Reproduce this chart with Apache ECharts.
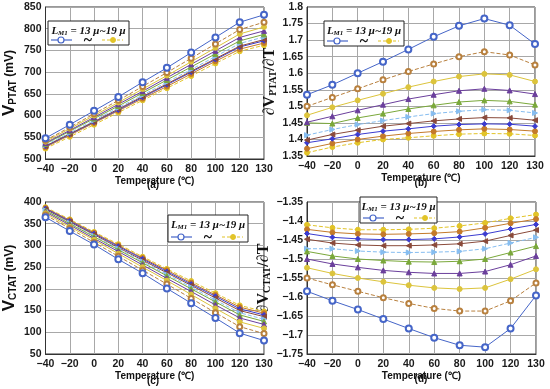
<!DOCTYPE html>
<html><head><meta charset="utf-8">
<script src="https://cdn.jsdelivr.net/npm/echarts@6/dist/echarts.min.js"></script>
<style>html,body{margin:0;padding:0;background:#fff}#c{width:550px;height:389px}</style>
</head><body><div id="c"></div>
<script>
// ---------- DATA ----------
const temps = ['-40','-20','0','20','40','60','80','100','120','130'];
const seriesNames = ['L1','L2','L3','L4','L5','L6','L7','L8','L9','L10'];
// (a) V_PTAT (mV)
const vptat = [
  [548,579,611,643,677,710,745,780,815,832],
  [543,573,604,635,667,699,732,765,798,815],
  [540,570,600,630,661,692,724,756,788,804],
  [537,566,596,626,656,687,718,749,780,795],
  [535,564,593,622,652,682,712,742,772,787],
  [532,560,589,618,647,677,706,736,766,781],
  [530,558,586,615,644,673,702,731,760,775],
  [529,557,585,613,642,671,700,729,758,772],
  [527,555,583,611,639,667,696,725,753,767],
  [524,551,579,607,635,663,691,720,748,762]
];
// (b) dV_PTAT/dT
const dvptat = [
  [1.535,1.565,1.600,1.635,1.672,1.710,1.743,1.765,1.745,1.688],
  [1.500,1.527,1.553,1.580,1.605,1.628,1.650,1.665,1.655,1.625],
  [1.473,1.497,1.518,1.538,1.558,1.575,1.590,1.598,1.595,1.575],
  [1.452,1.470,1.488,1.505,1.522,1.535,1.547,1.553,1.548,1.537],
  [1.450,1.448,1.465,1.478,1.492,1.503,1.513,1.518,1.515,1.505],
  [1.413,1.430,1.445,1.457,1.468,1.478,1.485,1.490,1.488,1.480],
  [1.398,1.415,1.428,1.440,1.448,1.456,1.462,1.466,1.465,1.458],
  [1.390,1.402,1.415,1.425,1.432,1.440,1.445,1.447,1.446,1.440],
  [1.372,1.388,1.400,1.410,1.418,1.424,1.429,1.432,1.430,1.425],
  [1.360,1.377,1.390,1.400,1.405,1.411,1.416,1.418,1.417,1.412]
];
// (c) V_CTAT (mV)
const vctat = [
  [365,333,302,268,236,201,167,133,98,81],
  [370,339,307,275,243,211,178,145,113,97],
  [374,343,313,281,250,219,187,155,124,109],
  [377,347,316,286,255,224,194,163,133,118],
  [380,350,320,290,260,230,200,170,140,125],
  [381,352,322,293,263,233,204,174,145,130],
  [383,354,325,295,266,237,208,179,150,136],
  [385,356,327,298,269,240,211,183,154,140],
  [386,358,329,300,271,243,214,186,158,144],
  [388,360,331,303,274,246,218,190,162,148]
];
// (d) dV_CTAT/dT
const dvctat = [
  [-1.585,-1.610,-1.633,-1.658,-1.683,-1.707,-1.727,-1.732,-1.683,-1.596],
  [-1.550,-1.568,-1.585,-1.602,-1.617,-1.630,-1.637,-1.637,-1.610,-1.563],
  [-1.523,-1.538,-1.550,-1.560,-1.569,-1.576,-1.579,-1.576,-1.553,-1.527],
  [-1.500,-1.513,-1.522,-1.530,-1.535,-1.538,-1.538,-1.533,-1.515,-1.492],
  [-1.480,-1.492,-1.500,-1.504,-1.507,-1.508,-1.506,-1.500,-1.483,-1.466],
  [-1.473,-1.473,-1.479,-1.482,-1.483,-1.482,-1.480,-1.473,-1.458,-1.443],
  [-1.448,-1.458,-1.463,-1.465,-1.465,-1.463,-1.460,-1.453,-1.438,-1.424],
  [-1.433,-1.443,-1.447,-1.449,-1.449,-1.447,-1.442,-1.434,-1.421,-1.409],
  [-1.422,-1.430,-1.434,-1.435,-1.434,-1.432,-1.428,-1.418,-1.406,-1.395],
  [-1.410,-1.418,-1.423,-1.423,-1.422,-1.419,-1.413,-1.405,-1.393,-1.383]
];

// ---------- STYLE ----------
const colors = ['#4565c8','#b8803e','#dcc43c','#6b3f9c','#7aa83a','#86bdf0','#8a4a3a','#3b3bd0','#c47a2a','#e2c428'];
const dashes = ['solid','dashed','solid','solid','solid','dashed','solid','solid','solid','dashed'];
const symbols = ['emptyCircle','emptyCircle','circle','triangle','triangle','triangle','triangle','diamond','circle','circle'];
const symRot = [0,0,0,0,0,-90,90,0,0,0];
const symSize = [6,5,5,5,5,5,5,5,5,5];

const grids = [
  {left:42, top:7, width:222, height:152},
  {left:307, top:7, width:228, height:149},
  {left:42, top:202, width:222, height:152},
  {left:307, top:202, width:229, height:152}
];
const yCfg = [
  {min:500,max:850,interval:50},
  {min:1.35,max:1.8,interval:0.05},
  {min:50,max:400,interval:50},
  {min:-1.75,max:-1.35,interval:0.05}
];
const yNames = [
  '{v|V}{s|PTAT}{u| (mV)}',
  '{d|∂V}{s2|PTAT}{d|/∂T}',
  '{v|V}{s|CTAT}{u| (mV)}',
  '{d|∂V}{s2|CTAT}{d|/∂T}'
];
const yGaps = [27,24,27,27];
const datasets = [vptat, dvptat, vctat, dvctat];
const minus = s => String(s).replace('-', '−');
const labelFont = {fontFamily:'Liberation Sans', fontWeight:'bold', fontSize:10.5, color:'#1a1a1a'};

const xAxes = [], yAxes = [], series = [];
grids.forEach((g,i) => {
  xAxes.push({
    gridIndex:i, type:'category', data:temps, boundaryGap:false,
    axisLine:{show:true, lineStyle:{color:'#333'}}, axisTick:{show:false},
    axisLabel:Object.assign({margin:5, formatter:minus}, labelFont),
    splitLine:{show:true, lineStyle:{color:'#a8a8a8'}},
    name:'Temperature (℃)', nameLocation:'middle', nameGap:13,
    nameTextStyle:{fontFamily:'Liberation Sans', fontWeight:'bold', fontSize:10, color:'#111'}
  });
  yAxes.push(Object.assign({
    gridIndex:i, type:'value',
    axisLine:{show:true, lineStyle:{color:'#333'}}, axisTick:{show:false},
    axisLabel:Object.assign({margin:4, formatter:v => minus(+v.toFixed(2))}, labelFont),
    splitLine:{show:true, lineStyle:{color:'#a8a8a8'}},
    name:yNames[i], nameLocation:'middle', nameGap:yGaps[i], nameRotate:90,
    nameTextStyle:{color:'#111', rich:{
      v:{fontFamily:'Liberation Sans', fontWeight:'bold', fontSize:17, color:'#111'},
      s:{fontFamily:'Liberation Sans', fontWeight:'bold', fontSize:10, color:'#111', padding:[8,0,0,0]},
      u:{fontFamily:'Liberation Sans', fontWeight:'bold', fontSize:12, color:'#111'},
      d:{fontFamily:'Liberation Serif', fontWeight:'bold', fontSize:16, color:'#111'},
      s2:{fontFamily:'Liberation Serif', fontWeight:'bold', fontSize:10, color:'#111', padding:[8,0,0,0]}
    }}
  }, yCfg[i]));
  datasets[i].forEach((arr,k) => {
    series.push({
      type:'line', name:seriesNames[k], xAxisIndex:i, yAxisIndex:i, data:arr,
      symbol:symbols[k], symbolSize:symSize[k], symbolRotate:symRot[k],
      showAllSymbol:true,
      lineStyle:{color:colors[k], width:1, type:dashes[k]},
      itemStyle:{color:colors[k], borderColor:colors[k], borderWidth:1},
      emphasis:{disabled:true}, animation:false, z:3+ (9-k)
    });
  });
});

function legendBox(x,y,w,h){
  const ly = y + h - 5;
  return {type:'group', z:100, children:[
    {type:'rect', z:100, shape:{x:x,y:y,width:w,height:h}, style:{fill:'#fff', stroke:'#222', lineWidth:1}},
    {type:'text', z:101, x:x+w/2, y:y+10, style:{
      text:'{i|L}{s|M1}{n| = 13 μ~19 μ}', align:'center', verticalAlign:'middle',
      rich:{
        i:{fontFamily:'Liberation Serif', fontStyle:'italic', fontWeight:'bold', fontSize:11, fill:'#111', lineHeight:11},
        s:{fontFamily:'Liberation Serif', fontStyle:'italic', fontWeight:'bold', fontSize:7, fill:'#111', lineHeight:11, padding:[4,0,0,0]},
        n:{fontFamily:'Liberation Serif', fontStyle:'italic', fontWeight:'bold', fontSize:11, fill:'#111', lineHeight:11}
      }}},
    {type:'line', z:101, shape:{x1:x+3,y1:ly,x2:x+24,y2:ly}, style:{stroke:colors[0], lineWidth:1.2}},
    {type:'circle', z:102, shape:{cx:x+13, cy:ly, r:3}, style:{stroke:colors[0], fill:'#fff', lineWidth:1.2}},
    {type:'text', z:101, x:x+40, y:ly+1, style:{text:'~', fontSize:16, fontWeight:'bold', fill:'#111', align:'center', verticalAlign:'middle', fontFamily:'Liberation Serif'}},
    {type:'line', z:101, shape:{x1:x+54,y1:ly,x2:x+75,y2:ly}, style:{stroke:colors[9], lineWidth:1.2, lineDash:[3,2]}},
    {type:'circle', z:102, shape:{cx:x+65, cy:ly, r:2.5}, style:{stroke:colors[9], fill:colors[9]}}
  ]};
}
function panelLabel(t, cx, y){
  return {type:'text', x:cx, y:y, style:{text:t, align:'center', verticalAlign:'middle', fontFamily:'Liberation Sans', fontWeight:'bold', fontSize:10, fill:'#111'}};
}

const chart = echarts.init(document.getElementById('c'), null, {renderer:'canvas'});
chart.setOption({
  animation:false,
  backgroundColor:'#fff',
  grid: grids.map(g => Object.assign({show:true, borderColor:'#333', borderWidth:1, backgroundColor:'transparent'}, g)),
  xAxis:xAxes, yAxis:yAxes, series:series,
  graphic:[
    legendBox(48,21,81,24),
    legendBox(324,21,80,25),
    legendBox(168,215,80,27),
    legendBox(360,197,77,26),
    panelLabel('(a)',153,185),
    panelLabel('(b)',421,183),
    panelLabel('(c)',153,381),
    panelLabel('(d)',421,379)
  ]
});
</script></body></html>
